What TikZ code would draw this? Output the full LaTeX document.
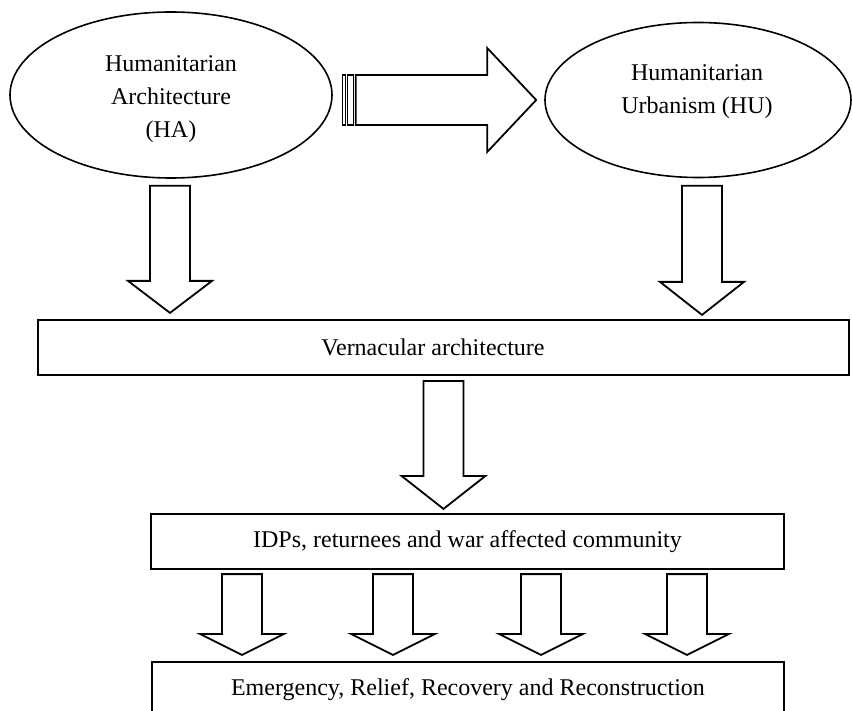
\documentclass[tikz,border=0pt]{standalone}
\usepackage{fontspec}
\setmainfont{Liberation Serif}
\usetikzlibrary{shapes.geometric,calc}
\tikzset{
 bubble/.style={ellipse, draw, line width=0.8pt, inner sep=0pt},
 bar/.style={rectangle, draw, line width=1.1pt, inner sep=0pt, font=\fontsize{12}{14}\selectfont},
 blockarrow/.style={draw, line width=0.9pt, fill=white, line join=miter},
 stripe/.style={draw, line width=0.6pt, fill=white},
 lbl/.style={inner sep=0pt, align=center, font=\fontsize{12}{16.5}\selectfont}
}
\newcommand\vbarrow[3]{\draw[blockarrow] let \p1=#1, \p2=#2 in (\x2-10pt,\y1) -- (\x2+10pt,\y1) -- (\x2+10pt,\y2+#3) -- (\x2+21pt,\y2+#3) -- (\x2,\y2) -- (\x2-21pt,\y2+#3) -- (\x2-10pt,\y2+#3) -- cycle;}
\begin{document}
\begin{tikzpicture}[x=0.5pt,y=-0.5pt]
\clip (0,0) rectangle (852,711);
\node[bubble, minimum width=161pt, minimum height=83pt] (HA) at (171,95) {};
\node[lbl] (HAt) at (171,99) {Humanitarian\\Architecture\\(HA)};
\node[bubble, minimum width=153pt, minimum height=77.5pt] (HU) at (698,100) {};
\node[lbl] (HUt) at (697,92) {Humanitarian\\Urbanism (HU)};
\node[bar, minimum width=405.5pt, minimum height=27.5pt] (VA) at (443.5,347.5) {};
\node[lbl] (VAt) at (433,347.5) {Vernacular architecture};
\node[bar, minimum width=316.5pt, minimum height=27.5pt] (IDP) at (467.5,541.5) {IDPs, returnees and war affected community};
\node[bar, minimum width=316pt, minimum height=27.5pt] (ERR) at (468,689.5) {Emergency, Relief, Recovery and Reconstruction};
% horizontal striped arrow HA -> HU
\draw[blockarrow] let \p1=($(HA.east)+(10,0)$), \p2=($(HU.west)+(-8,0)$) in
 (\x1+6.5pt,\y2-12.5pt) -- (\x2-24.5pt,\y2-12.5pt) -- (\x2-24.5pt,\y2-26pt) -- (\x2,\y2) -- (\x2-24.5pt,\y2+26pt) -- (\x2-24.5pt,\y2+12.5pt) -- (\x1+6.5pt,\y2+12.5pt) -- cycle;
\path[stripe] let \p1=($(HA.east)+(10,0)$), \p2=($(HU.west)+(-8,0)$) in
 (\x1,\y2-12.5pt) rectangle (\x1+1.5pt,\y2+12.5pt)
 (\x1+2.5pt,\y2-12.5pt) rectangle (\x1+5.5pt,\y2+12.5pt);
% vertical arrows
\vbarrow{($(HA.south)+(-1,7)$)}{($(HA.south |- VA.north)+(-1,-6)$)}{16pt}
\vbarrow{($(HU.south)+(4,7.5)$)}{($(HU.south |- VA.north)+(4,-4)$)}{16.5pt}
\vbarrow{($(VA.south)+(0,5)$)}{($(VA.south |- IDP.north)+(0,-4)$)}{16.5pt}
\coordinate (c1) at (242,0);
\coordinate (c2) at (393,0);
\coordinate (c3) at (541,0);
\coordinate (c4) at (687,0);
\foreach \c in {c1,c2,c3,c4}{
 \vbarrow{($(\c |- IDP.south)+(0,4)$)}{($(\c |- ERR.north)+(0,-6)$)}{10.5pt}
}
\end{tikzpicture}
\end{document}
